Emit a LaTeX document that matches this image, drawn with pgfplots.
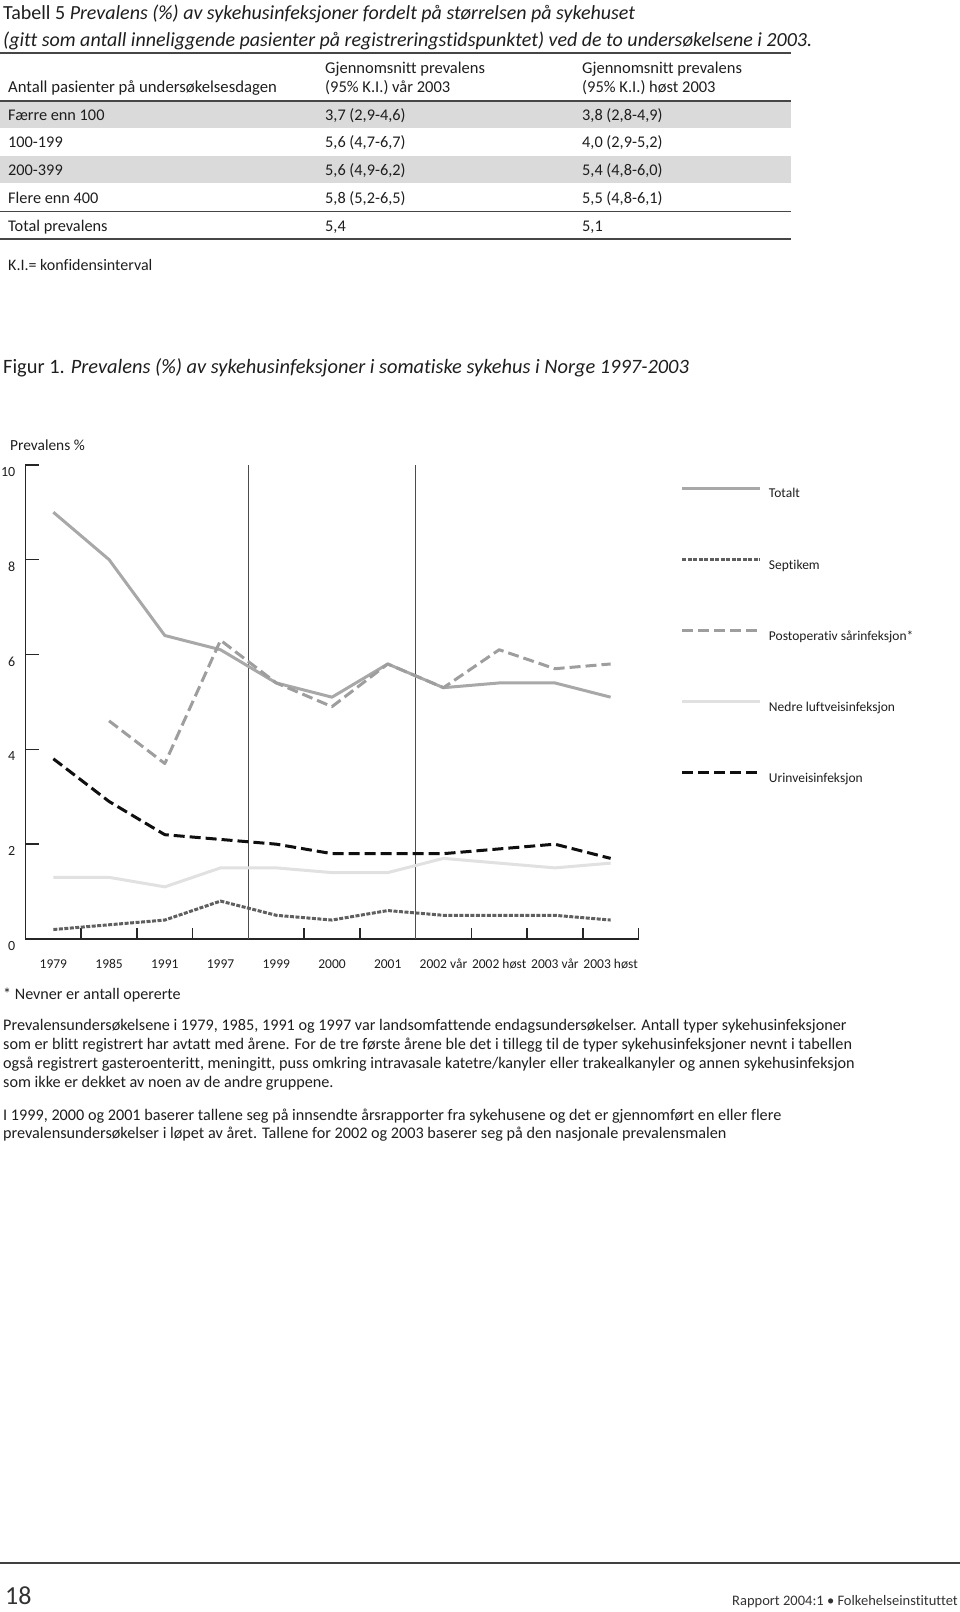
\documentclass[border=0pt]{standalone}
\usepackage{fontspec}
\setmainfont{Carlito}[Ligatures={NoCommon,NoContextual}]
\usepackage{pgfplots}
\pgfplotsset{compat=1.18}
\definecolor{cTot}{RGB}{168,168,168}
\definecolor{cSep}{RGB}{95,95,95}
\definecolor{cPost}{RGB}{158,158,158}
\definecolor{cNed}{RGB}{225,225,225}
\definecolor{cUri}{RGB}{15,15,15}
\definecolor{rowgray}{RGB}{218,218,218}
\definecolor{rulegray}{RGB}{70,70,70}
\definecolor{txt}{RGB}{30,30,30}
\newcommand{\fs}[1]{\fontsize{#1pt}{#1pt}\selectfont}
\newcommand{\txt}[4]{\node[anchor=base west,inner sep=0pt,text=txt] at (#1pt,-#2pt) {\fs{#3}#4};}
\begin{document}
\begin{tikzpicture}
\useasboundingbox (0,0) rectangle (960pt,-1612pt);
% ---------------- table ----------------
\fill[rowgray] (0,-101.7pt) rectangle (791pt,-128.3pt);
\fill[rowgray] (0,-156pt) rectangle (791pt,-183pt);
\draw[rulegray,line width=2.2pt] (0,-53.3pt) -- (791pt,-53.3pt);
\draw[rulegray,line width=2.2pt] (0,-100.7pt) -- (791pt,-100.7pt);
\draw[rulegray,line width=1pt] (0,-211pt) -- (791pt,-211pt);
\draw[rulegray,line width=2.2pt] (0,-238.7pt) -- (791pt,-238.7pt);
\txt{3}{19}{20}{Tabell 5 \textit{Prevalens (\%) av sykehusinfeksjoner fordelt på størrelsen på sykehuset}}
\txt{3}{46.3}{20}{\textit{(gitt som antall inneliggende pasienter på registreringstidspunktet) ved de to undersøkelsene i 2003.}}
\txt{325}{73.3}{16.5}{Gjennomsnitt prevalens}
\txt{325}{92.7}{16.5}{(95\% K.I.) vår 2003}
\txt{582}{73.3}{16.5}{Gjennomsnitt prevalens}
\txt{582}{92.7}{16.5}{(95\% K.I.) høst 2003}
\txt{8}{92.7}{16.7}{Antall pasienter på undersøkelsesdagen}
\txt{8}{120}{16.3}{Færre enn 100}
\txt{325}{120}{16.3}{3,7 (2,9-4,6)}
\txt{582}{120}{16.3}{3,8 (2,8-4,9)}
\txt{8}{147.7}{16.3}{100-199}
\txt{325}{147.7}{16.3}{5,6 (4,7-6,7)}
\txt{582}{147.7}{16.3}{4,0 (2,9-5,2)}
\txt{8}{175}{16.3}{200-399}
\txt{325}{175}{16.3}{5,6 (4,9-6,2)}
\txt{582}{175}{16.3}{5,4 (4,8-6,0)}
\txt{8}{203.3}{16.3}{Flere enn 400}
\txt{325}{203.3}{16.3}{5,8 (5,2-6,5)}
\txt{582}{203.3}{16.3}{5,5 (4,8-6,1)}
\txt{8}{231}{16.3}{Total prevalens}
\txt{325}{231}{16.3}{5,4}
\txt{582}{231}{16.3}{5,1}
\txt{8}{270}{16}{K.I.= konfidensinterval}
% ---------------- figure ----------------
\txt{3}{373.5}{20.4}{Figur 1. \textit{Prevalens (\%) av sykehusinfeksjoner i somatiske sykehus i Norge 1997-2003}}
\txt{10}{450}{15.4}{Prevalens \%}
\begin{axis}[
  at={(25.5pt,-939pt)}, anchor=south west,
  width=613pt, height=474.2pt, scale only axis,
  xmin=-0.5, xmax=10.5, ymin=0, ymax=10,
  axis lines=left,
  axis line style={-, line width=1.6pt, black!85},
  xtick={0,...,10},
  xticklabels={1979,1985,1991,1997,1999,2000,2001,2002 vår,2002 høst,2003 vår,2003 høst},
  minor xtick={-0.5,0.5,...,10.5},
  ytick={0,2,...,10},
  /pgf/number format/assume math mode=true,
  tick align=inside,
  major tick length=14pt,
  minor tick length=11pt,
  tick style={line width=1.6pt, black!85},
  major x tick style={draw=none},
  xticklabel style={anchor=center, yshift=-25pt, inner sep=0pt, font={\fs{13.5}}, text=txt},
  yticklabel style={anchor=east, xshift=-10pt, yshift=-7pt, inner sep=0pt, font={\fs{14}}, text=txt},
  legend style={at={(axis description cs:1.0693,0.9555)}, anchor=north west, draw=none, fill=none,
    inner sep=0pt, outer sep=0pt, row sep=56.2pt, column sep=7pt,
    nodes={inner sep=0pt, text height=12pt, text depth=3pt, anchor=base west, font={\fs{13.5}}, text=txt}},
  legend cell align=left,
  legend image code/.code={\draw[#1] (0pt,9.9pt) -- (78pt,9.9pt);},
  clip=false,
]
\addplot[forget plot, line width=1pt, black!70] coordinates {(3.5,0) (3.5,10)};
\addplot[forget plot, line width=1pt, black!70] coordinates {(6.5,0) (6.5,10)};
% Totalt
\addplot[cTot, line width=3pt, line join=round] coordinates {
(0,9.0) (1,8.0) (2,6.4) (3,6.1) (4,5.4) (5,5.1) (6,5.8) (7,5.3) (8,5.4) (9,5.4) (10,5.1)};
\addlegendentry{Totalt}
% Septikem
\addplot[cSep, line width=3pt, line join=round, dash pattern=on 4pt off 1.5pt] coordinates {
(0,0.2) (1,0.3) (2,0.4) (3,0.8) (4,0.5) (5,0.4) (6,0.6) (7,0.5) (8,0.5) (9,0.5) (10,0.4)};
\addlegendentry{Septikem}
% Postoperativ
\addplot[cPost, line width=3pt, line join=round, dash pattern=on 11pt off 5pt] coordinates {
(1,4.6) (2,3.7) (3,6.3) (4,5.4) (5,4.9) (6,5.8) (7,5.3) (8,6.1) (9,5.7) (10,5.8)};
\addlegendentry{Postoperativ sårinfeksjon*}
% Nedre luftvei
\addplot[cNed, line width=3pt, line join=round] coordinates {
(0,1.3) (1,1.3) (2,1.1) (3,1.5) (4,1.5) (5,1.4) (6,1.4) (7,1.7) (8,1.6) (9,1.5) (10,1.6)};
\addlegendentry{Nedre luftveisinfeksjon}
% Urinvei
\addplot[cUri, line width=3pt, line join=round, dash pattern=on 11pt off 5pt] coordinates {
(0,3.8) (1,2.9) (2,2.2) (3,2.1) (4,2.0) (5,1.8) (6,1.8) (7,1.8) (8,1.9) (9,2.0) (10,1.7)};
\addlegendentry{Urinveisinfeksjon}
\end{axis}
% ---------------- notes ----------------
\txt{3}{999}{16.1}{* Nevner er antall opererte}
\txt{3}{1030.8}{16.2}{Prevalensundersøkelsene i 1979, 1985, 1991 og 1997 var landsomfattende endagsundersøkelser. Antall typer sykehusinfeksjoner}
\txt{3}{1049.6}{16.2}{som er blitt registrert har avtatt med årene. For de tre første årene ble det i tillegg til de typer sykehusinfeksjoner nevnt i tabellen}
\txt{3}{1068.5}{16.2}{også registrert gasteroenteritt, meningitt, puss omkring intravasale katetre/kanyler eller trakealkanyler og annen sykehusinfeksjon}
\txt{3}{1087.3}{16.2}{som ikke er dekket av noen av de andre gruppene.}
\txt{3}{1120.2}{16.2}{I 1999, 2000 og 2001 baserer tallene seg på innsendte årsrapporter fra sykehusene og det er gjennomført en eller flere}
\txt{3}{1138.9}{16.2}{prevalensundersøkelser i løpet av året. Tallene for 2002 og 2003 baserer seg på den nasjonale prevalensmalen}
% ---------------- footer ----------------
\draw[black!75,line width=2pt] (0,-1562.5pt) -- (960pt,-1562.5pt);
\node[anchor=base west,inner sep=0pt,text=black!80] at (5pt,-1604.3pt) {\fs{26}18};
\node[anchor=base east,inner sep=0pt,text=black!80] at (958pt,-1605pt) {\fs{14.5}Rapport 2004:1 • Folkehelseinstituttet};
\end{tikzpicture}
\end{document}
